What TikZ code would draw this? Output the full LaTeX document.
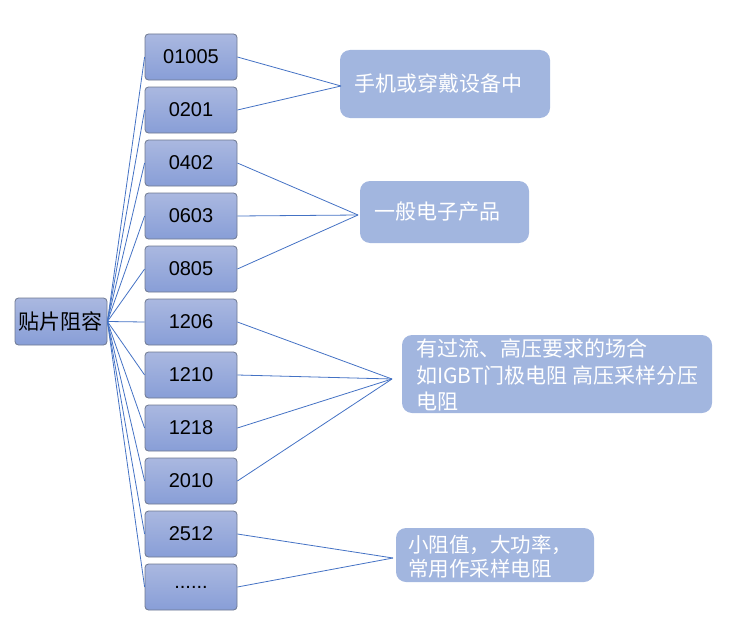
\documentclass[tikz,border=0pt]{standalone}
\usepackage{fontspec}
\setmainfont{Liberation Sans}
\newfontfamily\cjk{Noto Sans CJK SC}
\definecolor{boxtop}{HTML}{AAB8E0}
\definecolor{boxbot}{HTML}{889ED7}
\definecolor{boxline}{HTML}{6E7890}
\definecolor{notefill}{HTML}{A2B6DF}
\definecolor{wire}{HTML}{4472C4}
\begin{document}
\begin{tikzpicture}[x=1pt,y=-1pt,
  sizebox/.style={draw=boxline, line width=0.8pt, top color=boxtop, bottom color=boxbot,
    rounded corners=3.5pt, minimum width=92pt, minimum height=46pt, inner sep=0pt,
    font=\fontsize{20}{24}\selectfont},
  notebox/.style={fill=notefill, rounded corners=10pt, inner sep=0pt, text=white,
    font=\cjk\fontsize{21}{26}\selectfont},
  notetext/.style={anchor=west, inner sep=0pt, text=white, align=left,
    font=\cjk\fontsize{21}{26.5}\selectfont},
  wireline/.style={draw=wire, line width=0.8pt}]
\useasboundingbox (0,0) rectangle (744,642);

\node[sizebox, minimum height=47pt] (root) at (61,321.5) {\cjk\fontsize{21}{24}\selectfont 贴片阻容};

\node[sizebox] (b01005) at (191,57) {01005};
\node[sizebox] (b0201) at (191,110) {0201};
\node[sizebox] (b0402) at (191,163) {0402};
\node[sizebox] (b0603) at (191,216) {0603};
\node[sizebox] (b0805) at (191,269) {0805};
\node[sizebox] (b1206) at (191,322) {1206};
\node[sizebox] (b1210) at (191,375) {1210};
\node[sizebox] (b1218) at (191,428) {1218};
\node[sizebox] (b2010) at (191,481) {2010};
\node[sizebox] (b2512) at (191,534) {2512};
\node[sizebox] (bdots) at (191,587) {......};

\node[notebox, minimum width=210pt, minimum height=68pt] (nA) at (445,84) {手机或穿戴设备中\hspace*{14pt}};
\node[notebox, minimum width=169pt, minimum height=62pt] (nB) at (444.5,212) {一般电子产品\hspace*{14pt}};
\node[notebox, minimum width=310pt, minimum height=78pt] (nC) at (557,374) {};
\node[notetext] (nCt) at (416,375) {有过流、高压要求的场合\\如IGBT门极电阻 高压采样分压\\电阻};
\node[notebox, minimum width=198pt, minimum height=54pt] (nD) at (495,555) {};
\node[notetext, font=\cjk\fontsize{20.5}{24}\selectfont] (nDt) at (408,557) {小阻值，大功率，\\常用作采样电阻};

\coordinate (cA) at (341,86);
\coordinate (cB) at (358,215);
\coordinate (cC) at (392,379);
\coordinate (cD) at (393,558);

\foreach \b in {b01005,b0201,b0402,b0603,b0805,b1206,b1210,b1218,b2010,b2512,bdots}
  \draw[wireline] (root.east) -- (\b.west);

\draw[wireline] (b01005.east) -- (cA);
\draw[wireline] (b0201.east) -- (cA);
\draw[wireline] (b0402.east) -- (cB);
\draw[wireline] (b0603.east) -- (cB);
\draw[wireline] (b0805.east) -- (cB);
\draw[wireline] (b1206.east) -- (cC);
\draw[wireline] (b1210.east) -- (cC);
\draw[wireline] (b1218.east) -- (cC);
\draw[wireline] (b2010.east) -- (cC);
\draw[wireline] (b2512.east) -- (cD);
\draw[wireline] (bdots.east) -- (cD);
\end{tikzpicture}
\end{document}
